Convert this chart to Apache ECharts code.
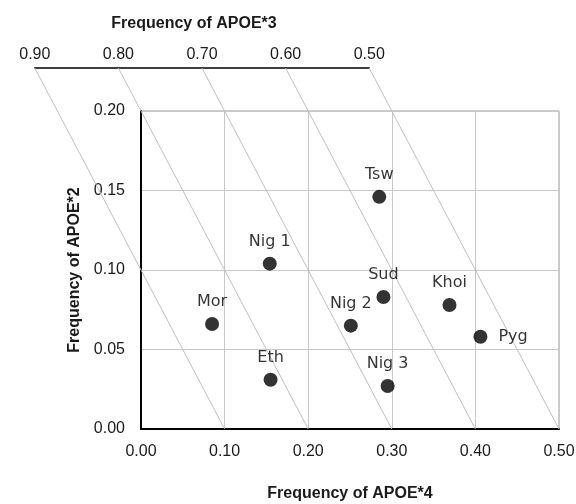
<!DOCTYPE html>
<html>
<head>
<meta charset="utf-8">
<script src="https://cdn.jsdelivr.net/npm/echarts@6/dist/echarts.min.js"></script>
<style>
  html, body { margin: 0; padding: 0; background: #fff; }
  #chart { width: 576px; height: 504px; }
</style>
</head>
<body>
<div id="chart"></div>
<script>
// Allele frequencies per population
const populations = ['Mor', 'Eth', 'Nig 1', 'Nig 2', 'Tsw', 'Sud', 'Nig 3', 'Khoi', 'Pyg'];
const apoe4Freq = [0.085, 0.155, 0.154, 0.251, 0.285, 0.290, 0.295, 0.369, 0.406];
const apoe2Freq = [0.066, 0.031, 0.104, 0.065, 0.146, 0.083, 0.027, 0.078, 0.058];

// Axis ranges / ticks
const apoe4Axis = { min: 0, max: 0.5, step: 0.1 };
const apoe2Axis = { min: 0, max: 0.2, step: 0.05 };
const apoe3Ticks = [0.9, 0.8, 0.7, 0.6, 0.5];

// Height (in APOE*2 units) at which the iso-APOE*3 lines meet the top axis
const ISO_TOP = 0.227;

const W = 576, H = 504;
const GRID = { left: 141, right: 17, top: 111, bottom: 75 };
const plotW = W - GRID.left - GRID.right;
const plotH = H - GRID.top - GRID.bottom;
const xToPx = x => GRID.left + (x - apoe4Axis.min) / (apoe4Axis.max - apoe4Axis.min) * plotW;
const yToPx = y => GRID.top + (apoe2Axis.max - y) / (apoe2Axis.max - apoe2Axis.min) * plotH;

// Top axis spans the end points of the iso-lines (APOE*3 = 1 - APOE*4 - APOE*2)
const a3Max = Math.max(...apoe3Ticks), a3Min = Math.min(...apoe3Ticks);
const isoXMin = 1 - a3Max - ISO_TOP;
const topLeftPx = xToPx(isoXMin);
const topRightPx = xToPx(1 - a3Min - ISO_TOP);
const topAxisPx = yToPx(ISO_TOP);

// Iso-lines live on a wider, hidden coordinate system sharing the main scale
const isoSeries = apoe3Ticks.map(a3 => ({
  type: 'line',
  xAxisIndex: 2, yAxisIndex: 2,
  data: [[1 - a3 - ISO_TOP, ISO_TOP], [1 - a3, 0]],
  symbol: 'none',
  clip: false,
  silent: true,
  z: 1,
  lineStyle: { color: '#bfbfbf', width: 1 }
}));

const points = populations.map((name, i) => ({
  value: [apoe4Freq[i], apoe2Freq[i]],
  name,
  label: name === 'Pyg' ? { position: 'right', distance: 11 } : {}
}));

const tickFont = { fontFamily: 'Liberation Sans', fontSize: 16, color: '#1a1a1a' };
const titleFont = { fontFamily: 'Liberation Sans', fontSize: 16, fontWeight: 'bold', color: '#1a1a1a' };

const chart = echarts.init(document.getElementById('chart'), null, { renderer: 'canvas', width: W, height: H });
chart.setOption({
  animation: false,
  backgroundColor: '#fff',
  grid: [
    { left: GRID.left, right: GRID.right, top: GRID.top, bottom: GRID.bottom,
      outerBoundsMode: 'none', containLabel: false,
      show: true, borderColor: '#9a9a9a', borderWidth: 1 },
    { left: topLeftPx, right: W - topRightPx, top: topAxisPx, height: 10,
      outerBoundsMode: 'none', containLabel: false, show: false },
    { left: topLeftPx, right: GRID.right, top: topAxisPx, bottom: GRID.bottom,
      outerBoundsMode: 'none', containLabel: false, show: false }
  ],
  xAxis: [
    {
      gridIndex: 0, type: 'value',
      min: apoe4Axis.min, max: apoe4Axis.max, interval: apoe4Axis.step,
      name: 'Frequency of APOE*4', nameLocation: 'middle', nameGap: 57,
      nameTextStyle: titleFont,
      axisLine: { show: true, onZero: false, lineStyle: { color: '#000', width: 2 } },
      axisTick: { show: false },
      axisLabel: Object.assign({ margin: 15, formatter: v => v.toFixed(2) }, tickFont),
      splitLine: { show: true, lineStyle: { color: '#c8c8c8', width: 1 } }
    },
    {
      gridIndex: 1, type: 'value', position: 'top', inverse: true,
      min: a3Min, max: a3Max, interval: 0.1,
      name: 'Frequency of APOE*3', nameLocation: 'middle', nameGap: 36,
      nameTextStyle: Object.assign({ padding: [0, 16, 0, 0] }, titleFont),
      axisLine: { show: true, onZero: false, lineStyle: { color: '#000', width: 1.5 } },
      axisTick: { show: false },
      axisLabel: Object.assign({ margin: 5, formatter: v => v.toFixed(2) }, tickFont),
      splitLine: { show: false }
    },
    { gridIndex: 2, type: 'value', min: isoXMin, max: apoe4Axis.max, show: false }
  ],
  yAxis: [
    {
      gridIndex: 0, type: 'value',
      min: apoe2Axis.min, max: apoe2Axis.max, interval: apoe2Axis.step,
      name: 'Frequency of APOE*2', nameLocation: 'middle', nameGap: 58,
      nameTextStyle: titleFont,
      axisLine: { show: true, onZero: false, lineStyle: { color: '#000', width: 2 } },
      axisTick: { show: false },
      axisLabel: Object.assign({ margin: 16, formatter: v => v.toFixed(2) }, tickFont),
      splitLine: { show: true, lineStyle: { color: '#c8c8c8', width: 1 } }
    },
    { gridIndex: 1, type: 'value', show: false },
    { gridIndex: 2, type: 'value', min: apoe2Axis.min, max: ISO_TOP, show: false }
  ],
  series: isoSeries.concat([{
    type: 'scatter',
    xAxisIndex: 0, yAxisIndex: 0,
    data: points,
    symbol: 'circle',
    symbolSize: 14,
    z: 5,
    itemStyle: { color: '#000' },
    label: {
      show: true, position: 'top', distance: 7,
      formatter: p => p.name,
      fontFamily: 'DejaVu Sans', fontSize: 16, color: '#000'
    }
  }])
});
</script>
</body>
</html>
